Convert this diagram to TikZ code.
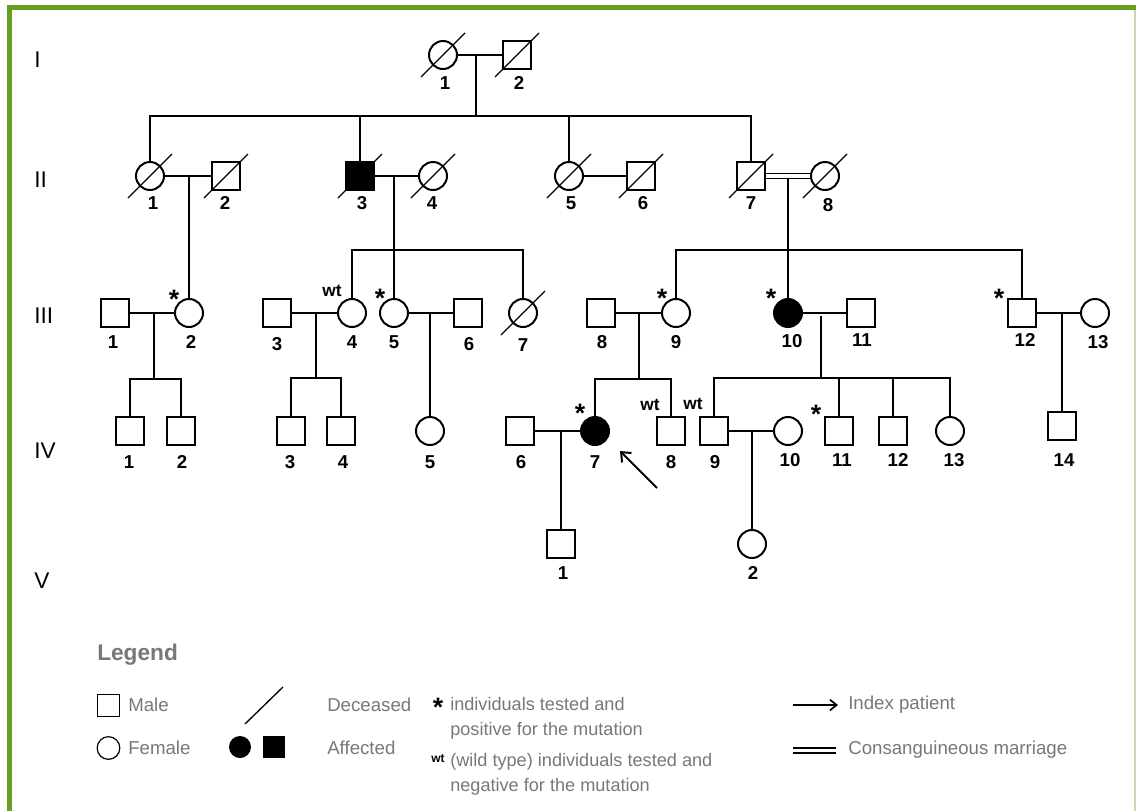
\documentclass[tikz,border=0pt]{standalone}
\usepackage{fontspec}
\setmainfont{Liberation Sans}
\usetikzlibrary{calc,arrows.meta}
\definecolor{framegreen}{RGB}{104,158,34}
\definecolor{framelight}{RGB}{196,218,170}
\definecolor{leggray}{RGB}{120,120,120}
\newcommand{\dead}[1]{\draw[slash] ($(#1)+(-22,22)$) -- ($(#1)+(22,-22)$);}
\begin{document}
\begin{tikzpicture}[x=0.75pt,y=-0.75pt,
  sym/.style={draw=black, line width=1.5pt, inner sep=0pt, outer sep=0pt},
  male/.style={sym, rectangle, minimum size=21pt},
  female/.style={sym, circle, minimum size=21pt},
  aff/.style={fill=black},
  con/.style={line width=1pt},
  slash/.style={line width=1pt},
  num/.style={font=\fontsize{14}{16}\selectfont\bfseries, inner sep=0pt},
  gen/.style={font=\fontsize{17}{19}\selectfont, anchor=west, inner sep=0pt},
  star/.style={font=\fontsize{20}{22}\selectfont\bfseries, inner sep=0pt},
  wtl/.style={font=\fontsize{13}{15}\selectfont\bfseries, inner sep=0pt},
  legt/.style={font=\fontsize{14}{16.5}\selectfont, text=leggray, anchor=west, inner sep=0pt},
  legb/.style={font=\fontsize{13.6}{16}\selectfont, text=leggray, anchor=base west, inner sep=0pt},
]
\useasboundingbox (0,0) rectangle (1136,811);
\fill[white] (0,0) rectangle (1136,811);
% frame
\fill[framegreen] (7,5) rectangle (1136,10);
\fill[framegreen] (7,5) rectangle (12,811);
\draw[framelight, line width=0.8pt] (1135,10) -- (1135,811);

% generation labels
\node[gen] (gI) at (34,60) {I};
\node[gen] (gII) at (34,180) {II};
\node[gen] (gIII) at (34,316) {III};
\node[gen] (gIV) at (34,451) {IV};
\node[gen] (gV) at (34,581) {V};

% ---------- Generation I ----------
\node[female] (I1) at (443,55) {};
\node[male] (I2) at (517,55) {};
\dead{I1}\dead{I2}
\draw[con] (I1) -- (I2);
\coordinate (mI) at (476,55);
\coordinate (sI) at (476,116);
\draw[con] (mI) -- (sI);
\node[num] (nI1) at (445,83) {1};
\node[num] (nI2) at (519,83) {2};

% ---------- Generation II ----------
\node[female] (II1) at (150,176) {};
\node[male] (II2) at (226,176) {};
\node[male,aff] (II3) at (360,176) {};
\node[female] (II4) at (433,176) {};
\node[female] (II5) at (569,176) {};
\node[male] (II6) at (641,176) {};
\node[male] (II7) at (751,176) {};
\node[female] (II8) at (825,176) {};
\dead{II1}\dead{II2}\dead{II3}\dead{II4}\dead{II5}\dead{II6}\dead{II7}\dead{II8}
\draw[con] (II1.north) |- (II7.north |- sI) -- (II7.north);
\draw[con] (II3.north) -- (II3.north |- sI);
\draw[con] (II5.north) -- (II5.north |- sI);
\draw[con] (II1) -- (II2);
\draw[con] (II3) -- (II4);
\draw[con] (II5) -- (II6);
\draw[con] ($(II7.east)+(0,-2.6)$) -- ($(II8.west)+(0,-2.6)$);
\draw[con] ($(II7.east)+(0,2.6)$) -- ($(II8.west)+(0,2.6)$);
\node[num] (nII1) at (153,203) {1};
\node[num] (nII2) at (225,203) {2};
\node[num] (nII3) at (362,203) {3};
\node[num] (nII4) at (432,203) {4};
\node[num] (nII5) at (571,203) {5};
\node[num] (nII6) at (643,203) {6};
\node[num] (nII7) at (751,203) {7};
\node[num] (nII8) at (828,205) {8};

% ---------- Generation III ----------
\node[male] (III1) at (115,313) {};
\node[female] (III2) at (189,313) {};
\node[male] (III3) at (277,313) {};
\node[female] (III4) at (352,313) {};
\node[female] (III5) at (394,313) {};
\node[male] (III6) at (468,313) {};
\node[female] (III7) at (523,313) {};
\node[male] (III8) at (601,313) {};
\node[female] (III9) at (676,313) {};
\node[female,aff] (III10) at (788,313) {};
\node[male] (III11) at (861,313) {};
\node[male] (III12) at (1022,313) {};
\node[female] (III13) at (1095,313) {};
\dead{III7}
% descent II1 x II2
\coordinate (m12) at (189,176);
\draw[con] (m12) -- (III2.north);
% descent II3 x II4
\coordinate (m34) at (394,176);
\coordinate (s34) at (394,250);
\draw[con] (m34) -- (s34);
\draw[con] (III4.north) |- (III7.north |- s34) -- (III7.north);
\draw[con] (III5.north) -- (III5.north |- s34);
% descent II7 x II8
\coordinate (m78) at (788,178.6);
\coordinate (s78) at (788,250);
\draw[con] (m78) -- (s78);
\draw[con] (III9.north) |- (III12.north |- s78) -- (III12.north);
\draw[con] (III10.north) -- (III10.north |- s78);
% marriages
\draw[con] (III1) -- (III2);
\draw[con] (III3) -- (III4);
\draw[con] (III5) -- (III6);
\draw[con] (III8) -- (III9);
\draw[con] (III10) -- (III11);
\draw[con] (III12) -- (III13);
\node[num] (nIII1) at (113,342) {1};
\node[num] (nIII2) at (191,342) {2};
\node[num] (nIII3) at (277,344) {3};
\node[num] (nIII4) at (352,342) {4};
\node[num] (nIII5) at (394,342) {5};
\node[num] (nIII6) at (469,344) {6};
\node[num] (nIII7) at (523,345) {7};
\node[num] (nIII8) at (602,342) {8};
\node[num] (nIII9) at (676,342) {9};
\node[num] (nIII10) at (792,341) {10};
\node[num] (nIII11) at (862,340) {11};
\node[num] (nIII12) at (1025,340) {12};
\node[num] (nIII13) at (1098,342) {13};
\node[star] (stIII2) at (174,299) {*};
\node[star] (stIII5) at (380,298) {*};
\node[star] (stIII9) at (662,298) {*};
\node[star] (stIII10) at (771,298) {*};
\node[star] (stIII12) at (999,298) {*};
\node[wtl] (wtIII4) at (332,291) {wt};

% ---------- Generation IV ----------
\node[male] (IV1) at (130,431) {};
\node[male] (IV2) at (181,431) {};
\node[male] (IV3) at (291,431) {};
\node[male] (IV4) at (341,431) {};
\node[female] (IV5) at (430,431) {};
\node[male] (IV6) at (520,431) {};
\node[female,aff] (IV7) at (595,431) {};
\node[male] (IV8) at (671,431) {};
\node[male] (IV9) at (714,431) {};
\node[female] (IV10) at (788,431) {};
\node[male] (IV11) at (839,431) {};
\node[male] (IV12) at (893,431) {};
\node[female] (IV13) at (950,431) {};
\node[male] (IV14) at (1062,426) {};
% descents from III
\coordinate (mIII12) at (154,313);
\coordinate (sIII12) at (154,379);
\draw[con] (mIII12) -- (sIII12);
\draw[con] (IV1.north) |- (IV2.north |- sIII12) -- (IV2.north);
\coordinate (mIII34) at (316,313);
\coordinate (sIII34) at (316,378);
\draw[con] (mIII34) -- (sIII34);
\draw[con] (IV3.north) |- (IV4.north |- sIII34) -- (IV4.north);
\coordinate (mIII56) at (430,313);
\draw[con] (mIII56) -- (IV5.north);
\coordinate (mIII89) at (639,313);
\coordinate (sIII89) at (639,379);
\draw[con] (mIII89) -- (sIII89);
\draw[con] (IV7.north) |- (IV8.north |- sIII89) -- (IV8.north);
\coordinate (mIII1011) at (821,316);
\coordinate (sIII1011) at (821,378);
\draw[con] (mIII1011) -- (sIII1011);
\draw[con] (IV9.north) |- (IV13.north |- sIII1011) -- (IV13.north);
\draw[con] (IV11.north) -- (IV11.north |- sIII1011);
\draw[con] (IV12.north) -- (IV12.north |- sIII1011);
\coordinate (mIII1213) at (1062,313);
\draw[con] (mIII1213) -- (IV14.north);
% marriages
\draw[con] (IV6) -- (IV7);
\draw[con] (IV9) -- (IV10);
\node[num] (nIV1) at (129,462) {1};
\node[num] (nIV2) at (182,462) {2};
\node[num] (nIV3) at (290,462) {3};
\node[num] (nIV4) at (343,462) {4};
\node[num] (nIV5) at (430,462) {5};
\node[num] (nIV6) at (521,462) {6};
\node[num] (nIV7) at (595,462) {7};
\node[num] (nIV8) at (671,462) {8};
\node[num] (nIV9) at (715,462) {9};
\node[num] (nIV10) at (790,460) {10};
\node[num] (nIV11) at (842,460) {11};
\node[num] (nIV12) at (898,460) {12};
\node[num] (nIV13) at (954,460) {13};
\node[num] (nIV14) at (1064,460) {14};
\node[star] (stIV7) at (580,413) {*};
\node[star] (stIV11) at (816,414) {*};
\node[wtl] (wtIV8) at (650,405) {wt};
\node[wtl] (wtIV9) at (693,404) {wt};
% index arrow
\coordinate (arrS) at (657,488);
\coordinate (arrE) at (620,451);
\draw[line width=1.5pt, -{Straight Barb[length=6pt,width=10pt]}] (arrS) -- (arrE);

% ---------- Generation V ----------
\node[male] (V1) at (561,544) {};
\node[female] (V2) at (752,544) {};
\coordinate (mIV67) at (561,431);
\draw[con] (mIV67) -- (V1.north);
\coordinate (mIV910) at (752,431);
\draw[con] (mIV910) -- (V2.north);
\node[num] (nV1) at (563,573) {1};
\node[num] (nV2) at (753,573) {2};

% ---------- Legend ----------
\node[font=\fontsize{17}{20}\selectfont\bfseries, text=leggray, anchor=west, inner sep=0pt] (legtitle) at (97,655) {Legend};
\node[draw, line width=0.9pt, minimum size=17pt, inner sep=0pt] (lmale) at (108.5,705.5) {};
\node[legt] (tmale) at (128,705) {Male};
\node[draw, circle, line width=0.9pt, minimum size=17pt, inner sep=0pt] (lfem) at (108.5,748) {};
\node[legt] (tfem) at (128,748) {Female};
\coordinate (ls1) at (245,724);
\coordinate (ls2) at (283,687);
\draw[slash] (ls1) -- (ls2);
\node[fill, circle, minimum size=16.5pt, inner sep=0pt] (lac) at (240,747) {};
\node[fill, minimum size=16.5pt, inner sep=0pt] (las) at (274,747) {};
\node[legt] (tdec) at (327,705) {Deceased};
\node[legt] (taff) at (327,748) {Affected};
\node[star] (lstar) at (438,707) {*};
\node[legb] (tstar1) at (450,710) {individuals tested and};
\node[legb] (tstar2) at (450,735) {positive for the mutation};
\node[font=\fontsize{9}{10}\selectfont\bfseries, inner sep=0pt] (lwt) at (438,759) {wt};
\node[legb] (twt1) at (450,766) {(wild type) individuals tested and};
\node[legb] (twt2) at (450,791) {negative for the mutation};
\coordinate (la1) at (793,705);
\coordinate (la2) at (838,705);
\draw[line width=1.3pt, -{Straight Barb[length=5pt,width=8pt]}] (la1) -- (la2);
\node[legt] (tidx) at (848,705) {Index patient};
\coordinate (lc1) at (793,748);
\coordinate (lc2) at (836,748);
\coordinate (lc3) at (793,753);
\coordinate (lc4) at (836,753);
\draw[con] (lc1) -- (lc2);
\draw[con] (lc3) -- (lc4);
\node[legt] (tcon) at (848,750) {Consanguineous marriage};
\end{tikzpicture}
\end{document}
